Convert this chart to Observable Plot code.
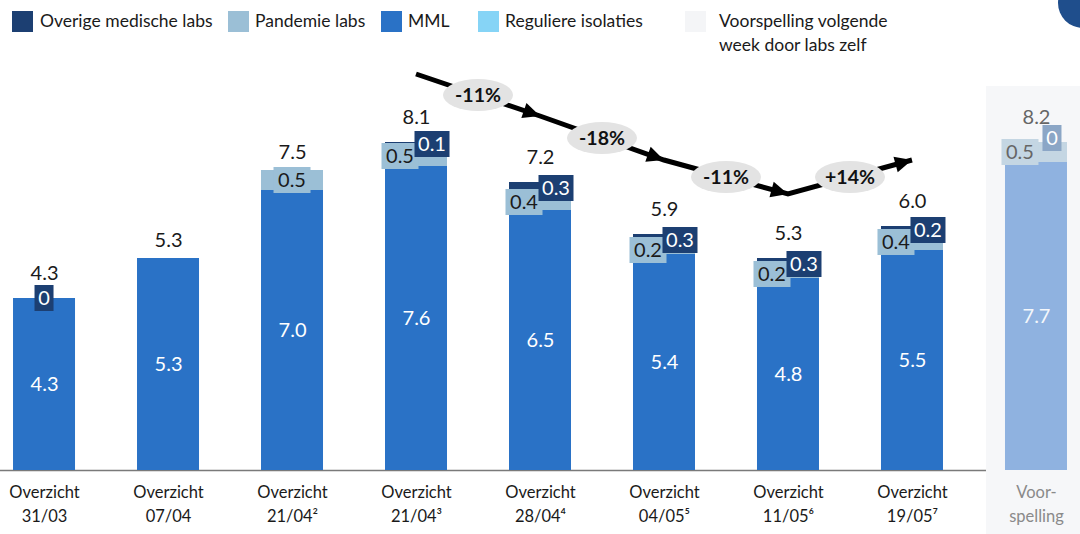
<!DOCTYPE html>
<html><head><meta charset="utf-8">
<script src="https://cdn.jsdelivr.net/npm/d3@7"></script>
<script src="https://cdn.jsdelivr.net/npm/@observablehq/plot@0.6"></script>
<style>
body{margin:0;background:#fff;font-family:Lato,"Open Sans",sans-serif;}
#wrap{position:relative;width:1080px;height:534px;overflow:hidden;}
#chart{position:absolute;left:0;top:0;}
.lg{position:absolute;top:9px;font-size:17.5px;color:#1a1a1a;line-height:24px;}
.sw{position:absolute;top:11px;width:21px;height:21px;}
#logo{position:absolute;left:1058px;top:-22px;width:50px;height:50px;border-radius:50%;background:#1f4e8c;}
</style></head>
<body><div id="wrap"><div id="chart"></div><div id="legend"></div><div id="logo"></div></div>
<script>
// ---- data ----
const categories = ["Overzicht\n31/03","Overzicht\n07/04","Overzicht\n21/04²","Overzicht\n21/04³","Overzicht\n28/04⁴","Overzicht\n04/05⁵","Overzicht\n11/05⁶","Overzicht\n19/05⁷","Voor-\nspelling"];
const mml      = [4.3, 5.3, 7.0, 7.6, 6.5, 5.4, 4.8, 5.5, 7.7];
const pandemie = [null, null, 0.5, 0.5, 0.4, 0.2, 0.2, 0.4, 0.5];
const overige  = [0, null, null, 0.1, 0.3, 0.3, 0.3, 0.2, 0];
const totals   = [4.3, 5.3, 7.5, 8.1, 7.2, 5.9, 5.3, 6.0, 8.2];
const changeLabels = ["-11%", "-18%", "-11%", "+14%"];
const changeFrom = 3; // index of first category of the trend arrow
const arrowLevels = [9.9, 8.85, 7.75, 6.9, 7.75];
const legendLabels = ["Overige medische labs","Pandemie labs","MML","Reguliere isolaties","Voorspelling volgende\nweek door labs zelf"];
const forecastIndex = 8;

// ---- styles ----
const C = {
  mml:"#2a72c6", pand:"#9bbfd6", over:"#1c3f72", reg:"#86d4f6", fc:"#f4f5f7",
  mmlF:"#8fb2e0", pandF:"#c4d6e3", overF:"#8ba6c6", bg:"#f6f7f9"
};
const fmt = v => v === 0 ? "0" : v.toFixed(1);

// legend
const lgPos = [[12,40],[228,255],[381,408],[478,505],[685,719]];
const lgCol = [C.over, C.pand, C.mml, C.reg, C.fc];
const legend = document.getElementById("legend");
legendLabels.forEach((t,i)=>{
  const s=document.createElement("div"); s.className="sw"; s.style.left=lgPos[i][0]+"px"; s.style.background=lgCol[i]; legend.appendChild(s);
  const l=document.createElement("div"); l.className="lg"; l.style.left=lgPos[i][1]+"px"; l.innerHTML=t.replace("\n","<br>"); legend.appendChild(l);
});

// derived tables
const segs = [], mmlLab = [], totLab = [], boxes = [];
categories.forEach((cat,i)=>{
  const f = i === forecastIndex;
  const p = pandemie[i], o = overige[i];
  segs.push({cat, y1:0, y2:mml[i], fill: f?C.mmlF:C.mml});
  let top = mml[i];
  if (p != null) { segs.push({cat, y1:top, y2:top+p, fill: f?C.pandF:C.pand}); }
  const pTop = top + (p ?? 0);
  if (o != null) { segs.push({cat, y1:pTop, y2:pTop+o, fill: f?C.overF:C.over}); }
  const stackTop = pTop + (o ?? 0);
  mmlLab.push({cat, y: mml[i]/2, text: fmt(mml[i]), f});
  totLab.push({cat, y: stackTop, text: fmt(totals[i]), f, boxed: o != null});
  const both = p != null && o != null;
  if (p != null) boxes.push({cat, y: top + p/2, dx: both ? -16 : 0, text: fmt(p), w: 37,
    fill: f?C.pandF:C.pand, color: f?"#666":"#1a1a1a"});
  if (o != null) boxes.push({cat, y: pTop + o/2 + (o===0 && p!=null ? 0.1 : 0), dx: both ? 16 : 0, text: fmt(o), w: o===0?19:35,
    fill: f?C.overF:C.over, color: "#fff"});
});

function boxMark(items){
  return (index, scales) => {
    const g = d3.create("svg:g");
    const hb = scales.x.bandwidth()/2;
    for (const it of items){
      const cx = scales.x(it.cat) + hb + it.dx, cy = scales.y(it.y);
      g.append("rect").attr("x", cx-it.w/2).attr("y", cy-13).attr("width", it.w).attr("height", 26).attr("fill", it.fill);
      g.append("text").attr("x", cx).attr("y", cy).attr("dy","0.36em").attr("text-anchor","middle")
        .attr("font-size", 20).attr("fill", it.color).text(it.text);
    }
    return g.node();
  };
}

function trendMark(){
  return (index, scales) => {
    const g = d3.create("svg:g");
    const hb = scales.x.bandwidth()/2;
    const pts = arrowLevels.map((v,k)=>[scales.x(categories[changeFrom+k]) + hb, scales.y(v)]);
    g.append("path").attr("d", d3.line()(pts)).attr("fill","none").attr("stroke","#000").attr("stroke-width",5);
    for (let k=1;k<pts.length;k++){
      const [x0,y0]=pts[k-1],[x1,y1]=pts[k];
      const a = Math.atan2(y1-y0,x1-x0)*180/Math.PI;
      g.append("path").attr("d","M0,0L-17,-8L-17,8Z").attr("fill","#000")
        .attr("transform",`translate(${x1},${y1}) rotate(${a})`);
    }
    for (let k=0;k<changeLabels.length;k++){
      const mx=(pts[k][0]+pts[k+1][0])/2, my=(pts[k][1]+pts[k+1][1])/2;
      g.append("ellipse").attr("cx",mx).attr("cy",my).attr("rx",35).attr("ry",16).attr("fill","#e3e3e3");
      g.append("text").attr("x",mx).attr("y",my).attr("dy","0.36em").attr("text-anchor","middle")
        .attr("font-size",19.5).attr("font-weight","bold").attr("fill","#111").text(changeLabels[k]);
    }
    return g.node();
  };
}

const plot = Plot.plot({
  width:1080, height:534, marginTop:0, marginBottom:64, marginLeft:0, marginRight:0,
  style:{fontFamily:'Lato,"Open Sans",sans-serif', background:"transparent"},
  x:{domain:categories, paddingInner:0.5, paddingOuter:0.105, round:false, axis:null},
  y:{domain:[0,11.75], axis:null},
  marks:[
    Plot.ruleY([0], {stroke:"#7a7a7a", strokeWidth:1.5}),
    Plot.barY([categories[forecastIndex]], {x:d=>d, y1:-1.6, y2:9.6, fill:C.bg, insetLeft:-19, insetRight:-14}),
    Plot.barY(segs, {x:"cat", y1:"y1", y2:"y2", fill:d=>d.fill}),
    Plot.text(mmlLab, {x:"cat", y:"y", text:"text", fill:d=>d.f?"#f4f7fb":"#fff", fontSize:20}),
    Plot.text(totLab.filter(d=>!d.boxed), {x:"cat", y:"y", text:"text", dy:-18, fill:d=>d.f?"#666":"#1a1a1a", fontSize:20}),
    Plot.text(totLab.filter(d=>d.boxed), {x:"cat", y:"y", text:"text", dy:-25, fill:d=>d.f?"#666":"#1a1a1a", fontSize:20}),
    boxMark(boxes),
    trendMark(),
    Plot.axisX(categories.slice(0,forecastIndex), {tickSize:0, tickPadding:11, fontSize:16.5, lineHeight:1.45, color:"#1a1a1a", label:null}),
    Plot.axisX([categories[forecastIndex]], {tickSize:0, tickPadding:11, fontSize:16.5, lineHeight:1.45, color:"#8a8a8a", label:null})
  ]
});
document.getElementById("chart").appendChild(plot);
</script>
</body></html>
